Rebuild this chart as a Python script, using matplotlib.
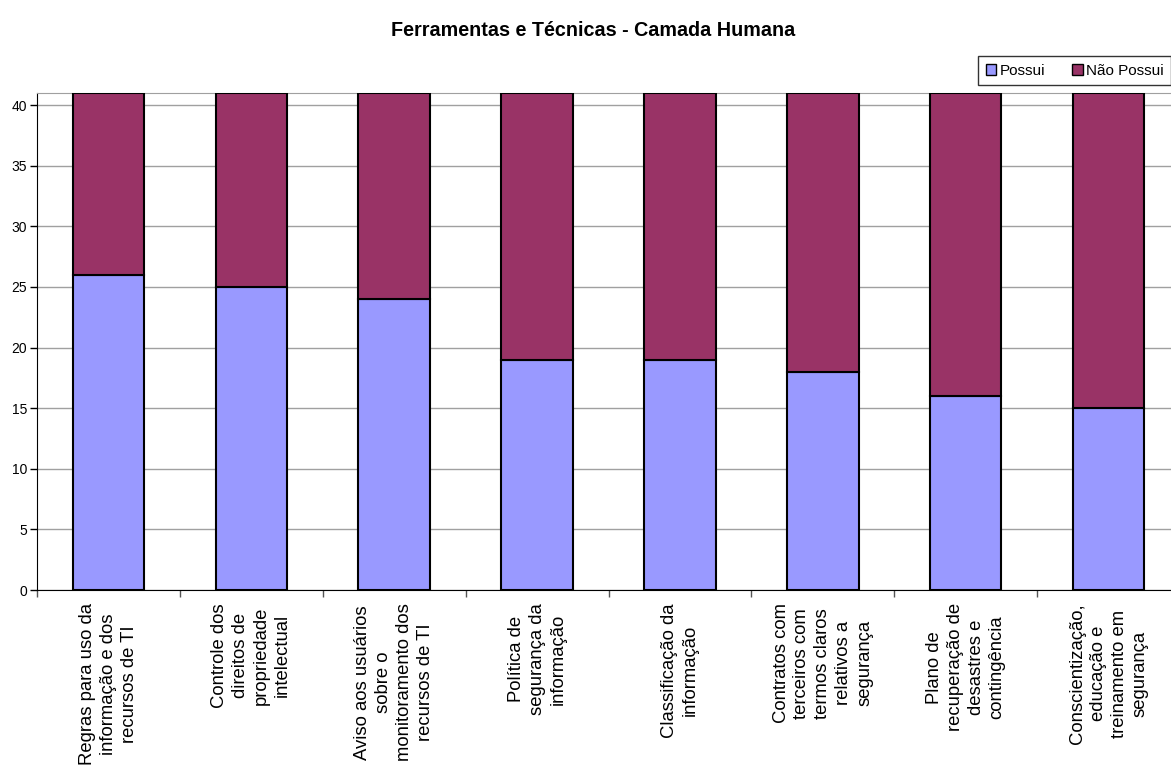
import matplotlib
matplotlib.use("Agg")
import matplotlib.pyplot as plt
import numpy as np
from matplotlib.patches import Patch

categories = [
    "Regras para uso da\ninformação e dos\nrecursos de TI",
    "Controle dos\ndireitos de\npropriedade\nintelectual",
    "Aviso aos usuários\nsobre o\nmonitoramento dos\nrecursos de TI",
    "Política de\nsegurança da\ninformação",
    "Classificação da\ninformação",
    "Contratos com\nterceiros com\ntermos claros\nrelativos a\nsegurança",
    "Plano de\nrecuperação de\ndesastres e\ncontingência",
    "Conscientização,\neducação e\ntreinamento em\nsegurança",
]
possui = [26, 25, 24, 19, 19, 18, 16, 15]
nao_possui = [15, 16, 17, 22, 22, 23, 25, 26]
yticks = [0, 5, 10, 15, 20, 25, 30, 35, 40]

plt.rcParams['font.family'] = ['Liberation Sans', 'DejaVu Sans']

W, H = 1171, 767
fig = plt.figure(figsize=(W/100, H/100), dpi=100)
left, right, top, bottom = 37, 1180, 93, 590
ax = fig.add_axes([left/W, 1 - bottom/H, (right-left)/W, (bottom-top)/H])

x = np.arange(len(categories))
c1, c2 = '#9999FF', '#993366'
ax.bar(x, possui, width=0.5, color=c1, edgecolor='black', linewidth=1.5, zorder=3)
ax.bar(x, nao_possui, bottom=possui, width=0.5, color=c2, edgecolor='black', linewidth=1.5, zorder=3)

ax.set_xlim(-0.5, len(categories) - 0.5)
ax.set_ylim(0, 41)
ax.set_yticks(yticks)
ax.set_yticklabels([str(v) for v in yticks], fontsize=10)
ax.yaxis.grid(True, color='#a0a0a0', linewidth=1, zorder=0)
ax.tick_params(axis='y', direction='out', length=5, width=1, pad=2)

ax.set_xticks(np.arange(len(categories) + 1) - 0.5)
ax.set_xticklabels([])
ax.tick_params(axis='x', direction='out', length=5, width=1, color='#555555')

for i, lab in enumerate(categories):
    ax.text(i, -1.1, lab, rotation=90, ha='center', va='top', multialignment='center',
            fontsize=13.3, linespacing=1.3, transform=ax.transData)

for s in ['top', 'right']:
    ax.spines[s].set_color('#a0a0a0')
ax.spines['left'].set_color('black')
ax.spines['bottom'].set_color('black')

fig.text(593/W, 1 - 30/H, "Ferramentas e Técnicas - Camada Humana", ha='center', va='center',
         fontsize=14.2, fontweight='bold')

handles = [Patch(facecolor=c1, edgecolor='black', label='Possui'),
           Patch(facecolor=c2, edgecolor='black', label='Não Possui')]
leg = fig.legend(handles=handles, loc='upper left', bbox_to_anchor=(978/W, 1 - 56/H), ncol=2,
                 fontsize=11, frameon=True, fancybox=False, edgecolor='black',
                 handlelength=0.7, handleheight=0.7, handletextpad=0.2, columnspacing=1.8,
                 borderpad=0.5, borderaxespad=0)
leg.get_frame().set_linewidth(1)

fig.savefig("out.png", dpi=100)
